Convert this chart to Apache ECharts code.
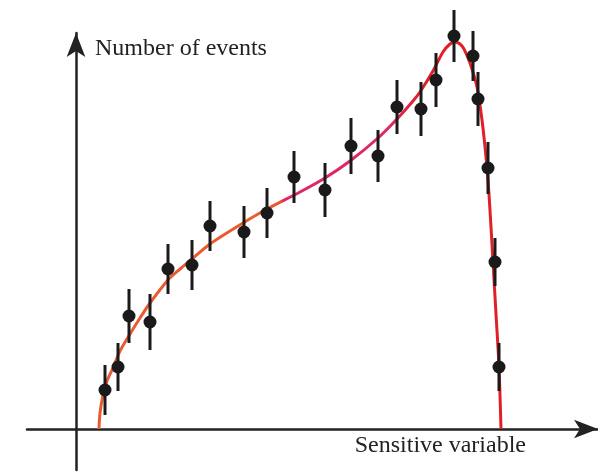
<!DOCTYPE html>
<html><head><meta charset="utf-8">
<script src="https://cdn.jsdelivr.net/npm/echarts@6/dist/echarts.min.js"></script>
<style>html,body{margin:0;padding:0;background:#fff}#c{width:598px;height:472px}</style>
</head><body><div id="c"></div>
<script>
// Measured data points (arbitrary units: sensitive variable, number of events, error)
const pointX = [29, 42, 53, 74, 92, 116, 134, 168, 191, 218, 249, 275, 302, 321, 345, 360, 378, 397, 402, 412, 419, 423];
const pointY = [39, 62, 113, 107, 160, 164, 203, 197, 216, 252, 239, 283, 273, 322, 320, 349, 393, 373, 330, 261, 167, 62];
const pointErr = [25, 24, 27, 28, 25, 25, 25, 26, 25, 26, 27, 28, 26, 27, 27, 27, 26, 25, 27, 26, 24, 24];
// Fitted curve
const curveX = [23, 24, 27, 31, 37, 44, 54, 64, 74, 92, 104, 116, 134, 167, 191, 224, 249, 274, 302, 321, 337, 344, 357, 367, 374, 379, 384, 388, 394, 401, 406, 410, 413, 417, 420, 423, 425];
const curveY = [0, 16, 34, 48, 61, 78, 95, 111, 126, 149, 160, 170, 185, 206, 220, 237, 251, 268, 291, 310, 328, 337, 358, 377, 385, 387, 385, 380, 366, 342, 309, 272, 235, 167, 115, 62, 0];
const xName = 'Sensitive variable';
const yName = 'Number of events';

const points = pointX.map((x, i) => [x, pointY[i], pointErr[i]]);
const curve = curveX.map((x, i) => [x, curveY[i]]);

const chart = echarts.init(document.getElementById('c'));
const axisColor = '#222';
const nameFont = { fontFamily: 'Liberation Serif', fontSize: 24, color: '#222', lineHeight: 24 };
chart.setOption({
  animation: false,
  backgroundColor: '#fff',
  grid: { left: 27, right: 0, top: 33, bottom: 2, containLabel: false },
  xAxis: {
    type: 'value', min: -49, max: 522,
    name: xName, nameLocation: 'end', nameGap: -72,
    nameTextStyle: Object.assign({}, nameFont, { align: 'right', verticalAlign: 'top', padding: [5, 0, 0, 0] }),
    axisLine: { show: true, onZero: true, symbol: ['none', 'arrow'], symbolSize: [14, 24], lineStyle: { color: axisColor, width: 2.5 } },
    axisTick: { show: false }, axisLabel: { show: false }, splitLine: { show: false }
  },
  yAxis: {
    type: 'value', min: -41, max: 396,
    name: yName, nameLocation: 'end', nameGap: -16,
    nameTextStyle: Object.assign({}, nameFont, { align: 'left', verticalAlign: 'middle', padding: [0, 0, 0, 19] }),
    axisLine: { show: true, onZero: true, symbol: ['none', 'arrow'], symbolSize: [14, 24], lineStyle: { color: axisColor, width: 2.5 } },
    axisTick: { show: false }, axisLabel: { show: false }, splitLine: { show: false }
  },
  series: [
    {
      type: 'line', data: curve, smooth: 0.3, showSymbol: false, clip: false,
      lineStyle: {
        width: 3,
        color: new echarts.graphic.LinearGradient(0, 0, 1, 0, [
          { offset: 0, color: '#ea5a30' },
          { offset: 0.45, color: '#ea5a30' },
          { offset: 0.46, color: '#de2862' },
          { offset: 0.72, color: '#de2862' },
          { offset: 0.8, color: '#e01f26' },
          { offset: 1, color: '#e01f26' }
        ])
      },
      z: 1
    },
    {
      type: 'custom', data: points, clip: false, z: 2,
      renderItem: function (params, api) {
        const x = api.value(0), y = api.value(1), e = api.value(2);
        const p1 = api.coord([x, y + e]);
        const p2 = api.coord([x, y - e]);
        return { type: 'line', shape: { x1: p1[0], y1: p1[1], x2: p2[0], y2: p2[1] }, style: { stroke: '#1a1a1a', lineWidth: 3 } };
      }
    },
    {
      type: 'scatter', data: points.map(p => [p[0], p[1]]), symbol: 'circle', symbolSize: 13, clip: false,
      itemStyle: { color: '#1a1a1a', opacity: 1 }, z: 3
    }
  ]
});
</script>
</body></html>
